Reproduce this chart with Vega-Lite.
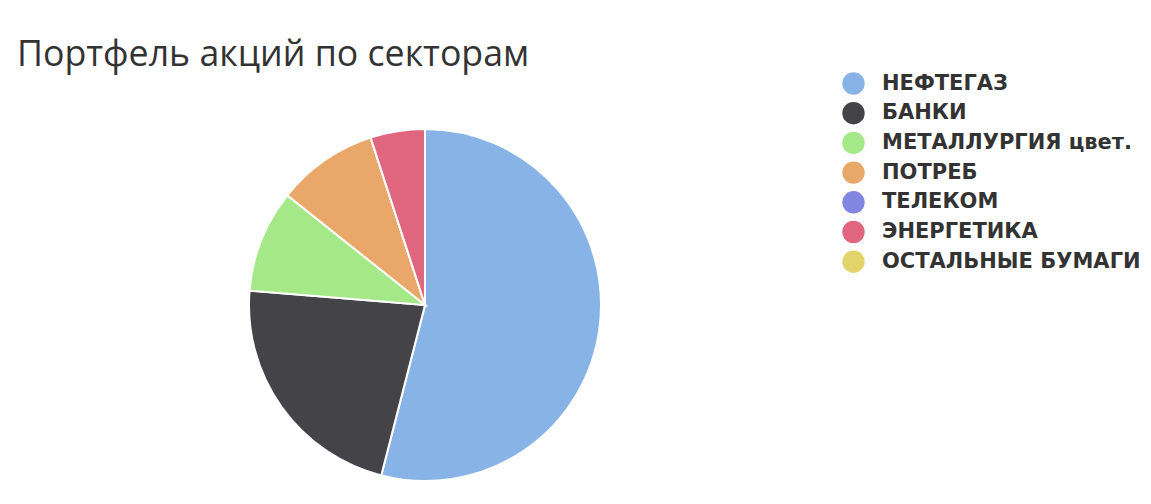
{
  "$schema": "https://vega.github.io/schema/vega-lite/v6.json",
  "autosize": {"type": "none"},
  "width": 850,
  "height": 352,
  "padding": {"left": 0, "top": 129, "right": 301, "bottom": 23},
  "background": "white",
  "title": {
    "text": "Портфель акций по секторам",
    "anchor": "start",
    "frame": "group",
    "dx": 17,
    "offset": -2,
    "font": "Open Sans",
    "fontSize": 35.7,
    "fontWeight": "normal",
    "color": "#333333"
  },
  "data": {
    "values": [
      {"sector": "НЕФТЕГАЗ", "share": 54.0},
      {"sector": "БАНКИ", "share": 22.3},
      {"sector": "МЕТАЛЛУРГИЯ цвет.", "share": 9.4},
      {"sector": "ПОТРЕБ", "share": 9.3},
      {"sector": "ТЕЛЕКОМ", "share": 0},
      {"sector": "ЭНЕРГЕТИКА", "share": 5.0},
      {"sector": "ОСТАЛЬНЫЕ БУМАГИ", "share": 0}
    ]
  },
  "transform": [
    {"window": [{"op": "row_number", "as": "slice_order"}]}
  ],
  "mark": {"type": "arc", "outerRadius": 176, "stroke": "white", "strokeWidth": 2},
  "encoding": {
    "theta": {"field": "share", "type": "quantitative", "stack": true},
    "order": {"field": "slice_order", "type": "quantitative", "sort": "ascending"},
    "color": {
      "field": "sector",
      "type": "nominal",
      "sort": ["НЕФТЕГАЗ", "БАНКИ", "МЕТАЛЛУРГИЯ цвет.", "ПОТРЕБ", "ТЕЛЕКОМ", "ЭНЕРГЕТИКА", "ОСТАЛЬНЫЕ БУМАГИ"],
      "scale": {
        "domain": ["НЕФТЕГАЗ", "БАНКИ", "МЕТАЛЛУРГИЯ цвет.", "ПОТРЕБ", "ТЕЛЕКОМ", "ЭНЕРГЕТИКА", "ОСТАЛЬНЫЕ БУМАГИ"],
        "range": ["#88b3e6", "#434348", "#a4e887", "#e9a76a", "#8386e0", "#e0667f", "#e2d36a"]
      },
      "legend": {
        "title": null,
        "orient": "none",
        "legendX": 842,
        "legendY": -57,
        "symbolType": "circle",
        "symbolSize": 500,
        "symbolOpacity": 1,
        "symbolStrokeWidth": 0,
        "labelFont": "DejaVu Sans",
        "labelFontSize": 21,
        "labelFontWeight": "bold",
        "labelColor": "#333333",
        "labelOffset": 17,
        "labelLimit": 400,
        "rowPadding": 6.7
      }
    }
  }
}
